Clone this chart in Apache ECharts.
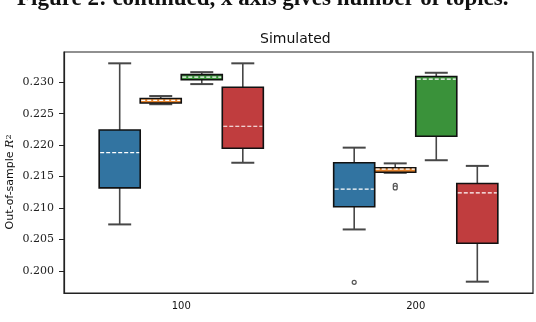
<!DOCTYPE html>
<html>
<head>
<meta charset="utf-8">
<script src="https://cdn.jsdelivr.net/npm/echarts@6/dist/echarts.min.js"></script>
<style>
html, body { margin: 0; padding: 0; background: #fff; }
#chart { width: 536px; height: 322px; }
</style>
</head>
<body>
<div id="chart"></div>
<script>
var categories = ['100', '200'];
var yTicks = [0.200, 0.205, 0.210, 0.215, 0.220, 0.225, 0.230];

// each entry: [min, q1, median, q3, max], one per category
var blueBoxes   = [[0.2074, 0.2132, 0.2188, 0.2224, 0.2330], [0.2066, 0.2102, 0.2130, 0.2172, 0.2196]];
var orangeBoxes = [[0.2265, 0.2267, 0.2271, 0.2274, 0.2278], [0.2156, 0.2157, 0.2162, 0.2164, 0.2171]];
var greenBoxes  = [[0.2297, 0.2304, 0.2308, 0.2312, 0.2316], [0.2176, 0.2214, 0.2305, 0.2309, 0.2315]];
var redBoxes    = [[0.2172, 0.2195, 0.2230, 0.2292, 0.2330], [0.1983, 0.2044, 0.2124, 0.2139, 0.2167]];

// outliers: [category index, value]
var blueOutliers   = [[1, 0.1982]];
var orangeOutliers = [[1, 0.2136], [1, 0.2132]];

var colors = ['#3274a1', '#e1812c', '#3a923a', '#c03d3e'];
var BOX_FRAC = 0.175;

var chart = echarts.init(document.getElementById('chart'));

function toRows(boxes) {
    return boxes.map(function (b, i) { return [i].concat(b); });
}

function boxRenderer(slot, color) {
    return function (params, api) {
        var i = api.value(0);
        var w = api.size([1, 0])[0] * BOX_FRAC;
        var cx = api.coord([i, 0])[0] + (slot - 1.5) * w;
        var y = function (d) { return api.coord([i, api.value(d)])[1]; };
        var yMin = y(1), yQ1 = y(2), yMed = y(3), yQ3 = y(4), yMax = y(5);
        var cap = w * 0.28;
        var whisk = { stroke: '#474747', lineWidth: 1.6 };
        return {
            type: 'group',
            children: [
                { type: 'line', shape: { x1: cx, y1: yMax, x2: cx, y2: yQ3 }, style: whisk },
                { type: 'line', shape: { x1: cx, y1: yQ1, x2: cx, y2: yMin }, style: whisk },
                { type: 'line', shape: { x1: cx - cap, y1: yMax, x2: cx + cap, y2: yMax }, style: { stroke: '#474747', lineWidth: 2 } },
                { type: 'line', shape: { x1: cx - cap, y1: yMin, x2: cx + cap, y2: yMin }, style: { stroke: '#474747', lineWidth: 2 } },
                { type: 'rect', shape: { x: cx - w / 2, y: yQ3, width: w, height: yQ1 - yQ3 },
                  style: { fill: color, stroke: '#111', lineWidth: 1.6 } },
                { type: 'line', shape: { x1: cx - w / 2 + 1, y1: yMed, x2: cx + w / 2 - 1, y2: yMed },
                  style: { stroke: '#fff', lineWidth: 1.2, lineDash: [4, 2] } }
            ]
        };
    };
}

function outlierRenderer(slot) {
    return function (params, api) {
        var w = api.size([1, 0])[0] * BOX_FRAC;
        var p = api.coord([api.value(0), api.value(1)]);
        return {
            type: 'circle',
            shape: { cx: p[0] + (slot - 1.5) * w, cy: p[1], r: 2 },
            style: { fill: '#fff', stroke: '#555', lineWidth: 1.2 }
        };
    };
}

var boxSets = [blueBoxes, orangeBoxes, greenBoxes, redBoxes];
var series = boxSets.map(function (boxes, k) {
    return {
        type: 'custom',
        renderItem: boxRenderer(k, colors[k]),
        encode: { x: 0, y: [1, 2, 3, 4, 5] },
        data: toRows(boxes),
        z: 3
    };
});
series.push({ type: 'custom', renderItem: outlierRenderer(0), encode: { x: 0, y: 1 }, data: blueOutliers, z: 4 });
series.push({ type: 'custom', renderItem: outlierRenderer(1), encode: { x: 0, y: 1 }, data: orangeOutliers, z: 4 });

option = {
    animation: false,
    title: {
        text: 'Simulated',
        left: 255,
        top: 27,
        textStyle: { fontFamily: 'DejaVu Sans', fontSize: 14, fontWeight: 'normal', color: '#111' }
    },
    grid: {
        left: 64,
        right: 3,
        top: 52,
        bottom: 29,
        show: true,
        borderColor: '#222',
        borderWidth: 1.2
    },
    xAxis: {
        type: 'category',
        data: categories,
        axisLine: { lineStyle: { color: '#222', width: 1.2 } },
        axisTick: { alignWithLabel: true, length: 5, lineStyle: { color: '#222' } },
        axisLabel: { margin: 8, fontFamily: 'DejaVu Sans', fontSize: 10, color: '#111' },
        splitLine: { show: false }
    },
    yAxis: {
        type: 'value',
        min: 0.1965,
        max: 0.2348,
        axisLine: { show: true, lineStyle: { color: '#222', width: 1.2 } },
        axisTick: { show: true, length: 5, customValues: yTicks, lineStyle: { color: '#222' } },
        axisLabel: {
            customValues: yTicks,
            margin: 10,
            fontFamily: 'DejaVu Serif',
            fontSize: 11,
            color: '#222',
            formatter: function (v) { return v.toFixed(3); }
        },
        splitLine: { show: false }
    },
    graphic: [
        {
            type: 'text',
            x: 17,
            y: -1,
            style: {
                text: 'Figure 2: continued, x axis gives number of topics.',
                font: 'bold 23px "Liberation Serif"',
                fill: '#111',
                verticalAlign: 'middle'
            }
        },
        {
            type: 'text',
            x: 10,
            y: 182,
            rotation: Math.PI / 2,
            style: {
                text: '{a|Out-of-sample }{r|R}{s|2}',
                align: 'center',
                verticalAlign: 'middle',
                rich: {
                    a: { fontFamily: 'DejaVu Sans', fontSize: 11, fill: '#111' },
                    r: { fontFamily: 'DejaVu Serif', fontStyle: 'italic', fontSize: 11, fill: '#111' },
                    s: { fontFamily: 'DejaVu Serif', fontSize: 8, fill: '#111', verticalAlign: 'top' }
                }
            }
        }
    ],
    series: series
};

chart.setOption(option);
</script>
</body>
</html>
